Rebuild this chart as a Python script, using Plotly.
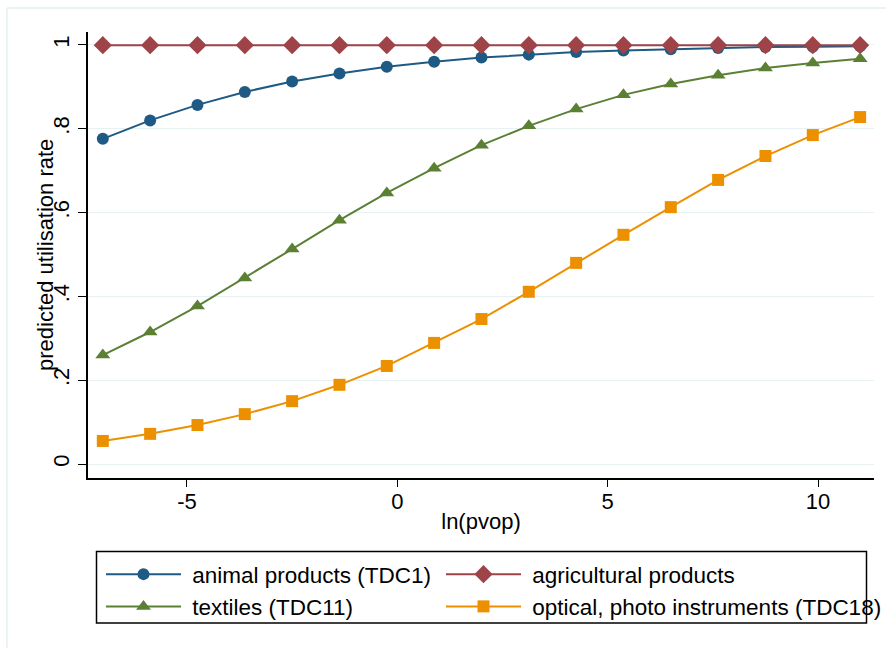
import plotly.graph_objects as go

x_vals = [-7 + 1.125 * i for i in range(17)]
animal = [0.776, 0.820, 0.857, 0.888, 0.913, 0.932, 0.948, 0.960, 0.970, 0.977, 0.983, 0.987, 0.990, 0.993, 0.995, 0.996, 0.997]
agri = [0.9995] * 17
textiles = [0.260, 0.315, 0.377, 0.444, 0.513, 0.582, 0.647, 0.706, 0.761, 0.807, 0.847, 0.881, 0.907, 0.928, 0.945, 0.957, 0.967]
optical = [0.055, 0.072, 0.093, 0.119, 0.150, 0.189, 0.234, 0.289, 0.346, 0.411, 0.480, 0.547, 0.613, 0.678, 0.735, 0.785, 0.828]

names = ["animal products (TDC1)", "agricultural products", "textiles (TDC11)", "optical, photo instruments (TDC18)"]
colors = ["#1f5a85", "#9e4348", "#5b8034", "#ec9000"]
symbols = ["circle", "diamond", "triangle-up", "square"]
sizes = [12, 14, 13, 12]
legends = ["legend", "legend2", "legend", "legend2"]
series = [animal, agri, textiles, optical]

y_ticks = [0, 0.2, 0.4, 0.6, 0.8, 1]
y_ticktext = ["0", ".2", ".4", ".6", ".8", "1"]
x_ticks = [-5, 0, 5, 10]
x_ticktext = ["-5", "0", "5", "10"]

FONT = "Liberation Sans, Arial, Helvetica, sans-serif"

fig = go.Figure()
for i, (name, vals, c, s, sz, lg) in enumerate(zip(names, series, colors, symbols, sizes, legends)):
    fig.add_trace(go.Scatter(
        x=x_vals, y=vals, name="\u00a0" + name, mode="lines+markers",
        line=dict(color=c, width=2),
        marker=dict(color=c, symbol=s, size=sz, line=dict(width=0)),
        legend=lg, legendgroup=f"g{i}",
    ))

W, H = 886, 648
L, R, T, B = 88, 12, 32, 170
pw = W - L - R
ph = H - T - B

def px_x(p):
    return (p - L) / pw

def px_y(p):
    return (H - B - p) / ph

leg_common = dict(
    orientation="v", yanchor="top", xanchor="left",
    borderwidth=0, bgcolor="rgba(0,0,0,0)",
    font=dict(family=FONT, size=22.5, color="black"),
    itemwidth=75, tracegroupgap=1, traceorder="normal",
)

fig.update_layout(
    width=W, height=H,
    margin=dict(l=L, r=R, t=T, b=B, autoexpand=False),
    paper_bgcolor="white", plot_bgcolor="white",
    font=dict(family=FONT, size=22, color="black"),
    showlegend=True,
    legend=dict(x=px_x(101), y=px_y(553), **leg_common),
    legend2=dict(x=px_x(441), y=px_y(553), **leg_common),
    xaxis=dict(
        range=[-7.352, 11.33],
        tickvals=x_ticks, ticktext=x_ticktext, ticks="outside", ticklen=7, tickcolor="black",
        showline=True, linecolor="black", linewidth=1.5,
        showgrid=False, zeroline=False,
        tickfont=dict(size=22),
        ticklabelstandoff=-4,
        title=dict(text="ln(pvop)", font=dict(size=22), standoff=0),
    ),
    yaxis=dict(
        range=[-0.0334, 1.031],
        tickvals=y_ticks, ticktext=y_ticktext, ticks="outside", ticklen=8, tickcolor="black",
        tickangle=-90,
        showline=True, linecolor="black", linewidth=1.5,
        showgrid=True, gridcolor="#e8f1f2", gridwidth=1, zeroline=False,
        tickfont=dict(size=22),
    ),
    annotations=[dict(
        text="predicted utilisation rate", textangle=-90,
        xref="paper", yref="paper", x=px_x(45), y=px_y(255),
        xanchor="center", yanchor="middle", showarrow=False,
        font=dict(family=FONT, size=22, color="black"),
    )],
    shapes=[
        dict(type="line", xref="paper", yref="paper", x0=px_x(7), x1=px_x(900), y0=px_y(8), y1=px_y(8),
             line=dict(color="#e6eff1", width=1.5)),
        dict(type="line", xref="paper", yref="paper", x0=px_x(7), x1=px_x(7), y0=px_y(8), y1=px_y(660),
             line=dict(color="#e6eff1", width=1.5)),
        dict(type="rect", xref="paper", yref="paper", x0=px_x(96.5), x1=px_x(866.5), y0=px_y(551.5), y1=px_y(623),
             line=dict(color="black", width=1.5), layer="above"),
    ],
)

fig.write_html("out.html", post_script="document.body.style.margin='0';",
               config={"displayModeBar": False})
